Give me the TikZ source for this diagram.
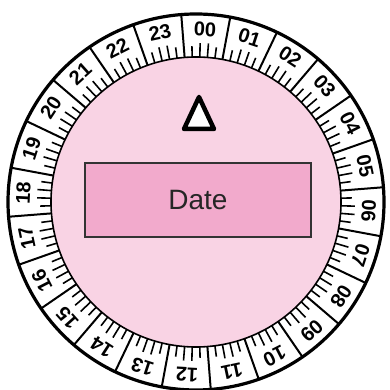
\documentclass[tikz,border=0pt]{standalone}
\usepackage{fontspec}
\setmainfont{Liberation Sans}
\usetikzlibrary{positioning}

\definecolor{dialpink}{RGB}{249,211,228}
\definecolor{datepink}{RGB}{242,170,204}

\begin{document}
\begin{tikzpicture}[
  x=1pt, y=1pt,
  hour/.style={font=\fontsize{20}{20}\selectfont\bfseries, inner sep=0pt},
  datebox/.style={draw=black!80, line width=1.5pt, fill=datepink, minimum width=226pt, minimum height=74pt, font=\fontsize{28}{28}\selectfont, text=black!85}
]
\useasboundingbox (0,0) rectangle (389,390);

\begin{scope}[shift={(196,188)}]
% dial face
\fill[dialpink] (0,0) circle (145);
\draw[line width=1.6pt] (0,0) circle (145);
\draw[line width=3.2pt] (0,0) circle (188);

% hour fields and ticks
\foreach \i in {0,...,23} {
  \pgfmathsetmacro{\a}{87-15*\i}
  \draw[line width=2pt] (\a+7.5:145) -- (\a+7.5:188);
  \draw[line width=1.6pt] (\a+4.5:145) -- (\a+4.5:156);
  \draw[line width=1.6pt] (\a+1.5:145) -- (\a+1.5:159);
  \draw[line width=1.6pt] (\a-1.5:145) -- (\a-1.5:159);
  \draw[line width=1.6pt] (\a-4.5:145) -- (\a-4.5:156);
}

% hour numbers
\foreach \t [count=\i from 0] in {00,01,02,03,04,05,06,07,08,09,10,11,12,13,14,15,16,17,18,19,20,21,22,23} {
  \pgfmathsetmacro{\a}{87-15*\i}
  \node[hour, rotate=\a-90] (n\t) at (\a:173) {\t};
}
\end{scope}

% index mark
\draw[line width=4.5pt, line join=round, fill=white] (199,293) -- (214,261) -- (184,261) -- cycle;

% date window
\node[datebox] (date) at (198,190) {Date};
\end{tikzpicture}
\end{document}
